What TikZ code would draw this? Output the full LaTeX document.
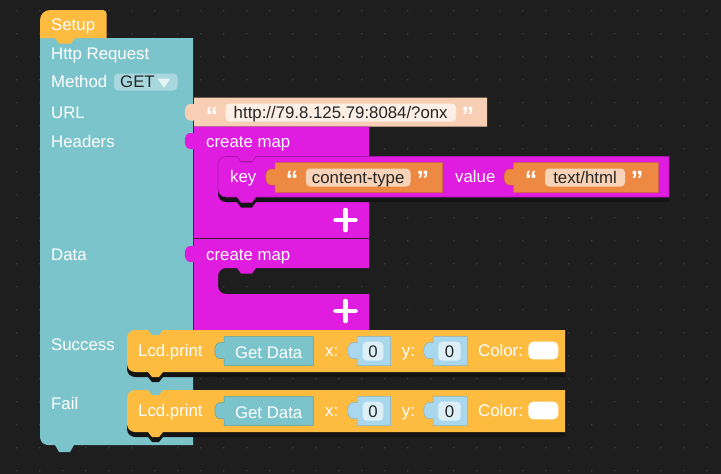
\documentclass[tikz,border=0pt]{standalone}
\usepackage{fontspec}
\setmainfont{Liberation Sans}
\definecolor{bgcol}{HTML}{1E1E1E}
\definecolor{dotcol}{HTML}{3E3E3E}
\definecolor{tealblk}{HTML}{7CC4CC}
\definecolor{tealdark}{HTML}{5A9EA6}
\definecolor{yellowblk}{HTML}{FDBB40}
\definecolor{peachblk}{HTML}{F8CFB4}
\definecolor{peachfld}{HTML}{FCEFE6}
\definecolor{magblk}{HTML}{E01CE0}
\definecolor{magdark}{HTML}{A814A8}
\definecolor{orangeblk}{HTML}{EE8944}
\definecolor{orangedark}{HTML}{C46C30}
\definecolor{orangefld}{HTML}{F9D3B7}
\definecolor{blueblk}{HTML}{A9D8EE}
\definecolor{bluedark}{HTML}{80B4CC}
\definecolor{bluefld}{HTML}{DDF0F8}
\definecolor{methodfld}{HTML}{A8D8DD}
\definecolor{shadowcol}{HTML}{141414}

\begin{document}
\begin{tikzpicture}[x=1pt,y=-1pt,
  lbl/.style={anchor=base west,inner sep=0pt,text=white,font=\fontsize{16.8}{18}\selectfont},
  fldtxt/.style={anchor=base,inner sep=0pt,text=black!85,font=\fontsize{16.8}{18}\selectfont},
  quot/.style={anchor=base west,inner sep=0pt,text=white,font=\fontsize{25}{26}\selectfont\bfseries},
  plus/.style={white,line width=4.5,line cap=round},
  inblk/.style={line width=0.5}]

\fill[bgcol] (0,0) rectangle (721,474);
\useasboundingbox (0,0) rectangle (721,474);
\foreach \i in {0,...,30} \foreach \j in {0,...,20}
  \fill[dotcol] (16.7+23*\i,10.7+23*\j) circle[radius=0.9pt];

\fill[tealblk] (40,38) -- (193,38) -- (193,445) -- (74,445) -- (70,452) -- (59,452) -- (55,445) -- (48,445) .. controls (43.6,445) and (40,441.4) .. (40,437) -- cycle;
\fill[yellowblk] (40,38) -- (40,20) .. controls (40,14.5) and (44.5,10) .. (50,10) -- (103,10) .. controls (105,10) and (106.5,11.5) .. (106.5,13.5) -- (106.5,38) -- (75,38) -- (71,43.5) -- (59,43.5) -- (55,38) -- cycle;

\node[lbl] (setup) at (51,30) {Setup};
\node[lbl] (http) at (51,59) {Http Request};
\node[lbl] (method) at (51,87.7) {Method};
\node[lbl] (url) at (51,118) {URL};
\node[lbl] (headers) at (51,147.3) {Headers};
\node[lbl] (data) at (51,260) {Data};
\node[lbl] (success) at (51,350.7) {Success};
\node[lbl] (fail) at (51,409) {Fail};

\fill[methodfld,rounded corners=4] (114,73.5) rectangle (177.5,90.5);
\node[fldtxt,anchor=base west] (get) at (120,87.7) {GET};
\fill[white!80!tealblk] (157.5,78.5) -- (170.5,78.5) -- (164,88) -- cycle;

\fill[peachblk] (194,97.5) -- (487,97.5) -- (487,126.5) -- (194,126.5) -- (194,120.5) -- (190,120.5) .. controls (183,120.5) and (183,104) .. (190,104) -- (194,104) -- cycle;
\node[quot] (urlqa) at (205.5,124) {“};
\fill[peachfld,rounded corners=4] (225.5,103.5) rectangle (456,121.5);
\node[fldtxt] (urltxt) at (340.7,118.3) {http://79.8.125.79:8084/?onx};
\node[quot] (urlqb) at (461.5,124) {”};

\fill[magblk] (194,126.5) -- (369,126.5) -- (369,238) -- (194,238) -- (194,149) -- (190,149) .. controls (183,149) and (183,133) .. (190,133) -- (194,133) -- cycle;
\node[lbl] (hdrmap) at (206,147.3) {create map};
\fill[shadowcol,shift={(0,5)}] (226,156.5) -- (669,156.5) -- (669,197) -- (256,197) -- (252,202.5) -- (241,202.5) -- (237,197) -- (226,197) .. controls (221.6,197) and (218,193.4) .. (218,189) -- (218,164.5) .. controls (218,160.1) and (221.6,156.5) .. (226,156.5) -- cycle;
\filldraw[fill=magblk,draw=magdark,line width=0.6] (226,156.5) -- (237,156.5) -- (241,162) -- (252,162) -- (256,156.5) -- (669,156.5) -- (669,197) -- (256,197) -- (252,202.5) -- (241,202.5) -- (237,197) -- (226,197) .. controls (221.6,197) and (218,193.4) .. (218,189) -- (218,164.5) .. controls (218,160.1) and (221.6,156.5) .. (226,156.5) -- cycle;
\node[lbl] (key) at (230,182.5) {key};
\filldraw[inblk,fill=orangeblk,draw=orangedark] (275,162.5) -- (442.5,162.5) -- (442.5,192.5) -- (275,192.5) -- (275,185) -- (271,185) .. controls (264,185) and (264,169) .. (271,169) -- (275,169) -- cycle;
\node[quot] (keyqa) at (285.7,188.7) {“};
\fill[orangefld,rounded corners=4] (306,168.5) rectangle (410.5,186.5);
\node[fldtxt] (keytxt) at (358.2,183) {content-type};
\node[quot] (keyqb) at (416.3,188.7) {”};
\node[lbl] (value) at (455,182.5) {value};
\filldraw[inblk,fill=orangeblk,draw=orangedark] (513.3,162.5) -- (658.3,162.5) -- (658.3,192.5) -- (513.3,192.5) -- (513.3,185) -- (509.3,185) .. controls (502.3,185) and (502.3,169) .. (509.3,169) -- (513.3,169) -- cycle;
\node[quot] (valqa) at (524.7,188.7) {“};
\fill[orangefld,rounded corners=4] (545,168.5) rectangle (625,186.5);
\node[fldtxt] (valtxt) at (585,183) {text/html};
\node[quot] (valqb) at (630.7,188.7) {”};
\draw[plus] (335.5,220) -- (355.5,220) (345.5,210) -- (345.5,230);

\fill[magblk] (194,239) -- (369,239) -- (369,268) -- (256,268) -- (252,273.5) -- (241,273.5) -- (237,268) -- (226,268) .. controls (221.6,268) and (218,271.6) .. (218,276) -- (218,286) .. controls (218,290.4) and (221.6,294) .. (226,294) -- (369,294) -- (369,330) -- (194,330) -- (194,262) -- (190,262) .. controls (183,262) and (183,246) .. (190,246) -- (194,246) -- cycle;
\node[lbl] (datamap) at (206,260) {create map};
\draw[plus] (335.5,311) -- (355.5,311) (345.5,301) -- (345.5,321);

\foreach \t/\nm in {330/succ,390/fail}{
  \fill[shadowcol,shift={(0,5)}] (135,\t) -- (565,\t) -- (565,\t+42) -- (163,\t+42) -- (159,\t+47) -- (152,\t+47) -- (148,\t+42) -- (135,\t+42) .. controls (130.6,\t+42) and (127,\t+38.4) .. (127,\t+34) -- (127,\t+8) .. controls (127,\t+3.6) and (130.6,\t) .. (135,\t) -- cycle;
  \fill[yellowblk] (135,\t) -- (148,\t) -- (152,\t+5) -- (159,\t+5) -- (163,\t) -- (565,\t) -- (565,\t+42) -- (163,\t+42) -- (159,\t+47) -- (152,\t+47) -- (148,\t+42) -- (135,\t+42) .. controls (130.6,\t+42) and (127,\t+38.4) .. (127,\t+34) -- (127,\t+8) .. controls (127,\t+3.6) and (130.6,\t) .. (135,\t) -- cycle;
  \node[lbl] (lcd\nm) at (138,\t+26) {Lcd.print};
  \filldraw[inblk,fill=tealblk,draw=tealdark] (224,\t+6.7) -- (313.3,\t+6.7) -- (313.3,\t+35.7) -- (224,\t+35.7) -- (224,\t+28.7) -- (220,\t+28.7) .. controls (213,\t+28.7) and (213,\t+12.7) .. (220,\t+12.7) -- (224,\t+12.7) -- cycle;
  \node[lbl,anchor=base] (getdata\nm) at (268.7,\t+28) {Get Data};
  \node[lbl] (x\nm) at (325,\t+26) {x:};
  \filldraw[inblk,fill=blueblk,draw=bluedark] (357,\t+6.7) -- (390.7,\t+6.7) -- (390.7,\t+35.7) -- (357,\t+35.7) -- (357,\t+28.7) -- (353,\t+28.7) .. controls (346,\t+28.7) and (346,\t+12.7) .. (353,\t+12.7) -- (357,\t+12.7) -- cycle;
  \fill[bluefld,rounded corners=4] (362.7,\t+11.7) rectangle (383.3,\t+30.7);
  \node[fldtxt] (xval\nm) at (373,\t+27.5) {0};
  \node[lbl] (y\nm) at (401.7,\t+26) {y:};
  \filldraw[inblk,fill=blueblk,draw=bluedark] (433,\t+6.7) -- (467.7,\t+6.7) -- (467.7,\t+35.7) -- (433,\t+35.7) -- (433,\t+28.7) -- (429,\t+28.7) .. controls (422,\t+28.7) and (422,\t+12.7) .. (429,\t+12.7) -- (433,\t+12.7) -- cycle;
  \fill[bluefld,rounded corners=4] (438.3,\t+11.7) rectangle (460.7,\t+30.7);
  \node[fldtxt] (yval\nm) at (449.5,\t+27.5) {0};
  \node[lbl] (color\nm) at (478,\t+26) {Color:};
  \fill[white,rounded corners=5] (528.3,\t+11.7) rectangle (558.3,\t+29.3);
}
\end{tikzpicture}
\end{document}
